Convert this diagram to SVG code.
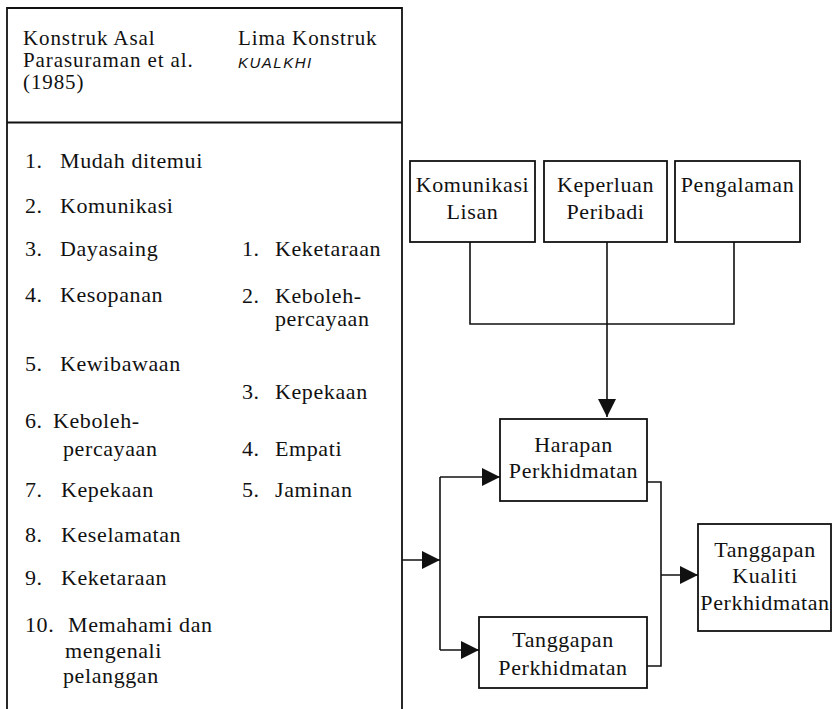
<svg xmlns="http://www.w3.org/2000/svg" width="835" height="709" viewBox="0 0 835 709">
<defs>
<style>
.t{font-family:"Liberation Serif","Times New Roman",serif;font-size:22px;letter-spacing:0.6px;fill:#111}
.h{font-size:21px;letter-spacing:0.9px}
.c{text-anchor:middle}
.it{font-family:"Liberation Sans",Arial,sans-serif;font-size:15px;font-style:italic;letter-spacing:1.5px;fill:#111}
.box{fill:#fff;stroke:#111;stroke-width:1.8}
.ln{fill:none;stroke:#111;stroke-width:1.6}
</style>
<marker id="ah" markerUnits="userSpaceOnUse" markerWidth="18" markerHeight="18" refX="18" refY="9" orient="auto" viewBox="0 0 18 18">
<path d="M0,0 L18,9 L0,18 z" fill="#111"/>
</marker>
</defs>
<rect width="835" height="709" fill="#fff"/>

<g id="table">
<path class="ln" d="M7,712 V8 H402 V712" style="stroke-width:1.8"/>
<line class="ln" x1="7" y1="122.5" x2="402" y2="122.5" style="stroke-width:1.8"/>
<text class="t h" x="23" y="45">Konstruk Asal</text>
<text class="t h" x="23" y="67">Parasuraman et al.</text>
<text class="t h" x="23" y="89">(1985)</text>
<text class="t h" x="238" y="45">Lima Konstruk</text>
<text class="it" x="238" y="68">KUALKHI</text>

<text class="t" x="25" y="168">1.</text><text class="t" x="60" y="168">Mudah ditemui</text>
<text class="t" x="25" y="213">2.</text><text class="t" x="60" y="213">Komunikasi</text>
<text class="t" x="25" y="256">3.</text><text class="t" x="60" y="256">Dayasaing</text>
<text class="t" x="25" y="302">4.</text><text class="t" x="60" y="302">Kesopanan</text>
<text class="t" x="25" y="371">5.</text><text class="t" x="60" y="371">Kewibawaan</text>
<text class="t" x="25" y="428">6.</text><text class="t" x="53" y="428">Keboleh-</text>
<text class="t" x="63" y="456">percayaan</text>
<text class="t" x="25" y="497">7.</text><text class="t" x="61" y="497">Kepekaan</text>
<text class="t" x="25" y="542">8.</text><text class="t" x="61" y="542">Keselamatan</text>
<text class="t" x="25" y="585">9.</text><text class="t" x="61" y="585">Keketaraan</text>
<text class="t" x="25" y="632">10.</text><text class="t" x="68" y="632">Memahami dan</text>
<text class="t" x="65" y="658">mengenali</text>
<text class="t" x="63" y="683">pelanggan</text>

<text class="t" x="242" y="256">1.</text><text class="t" x="275" y="256">Keketaraan</text>
<text class="t" x="242" y="303">2.</text><text class="t" x="275" y="303">Keboleh-</text>
<text class="t" x="275" y="326">percayaan</text>
<text class="t" x="242" y="399">3.</text><text class="t" x="275" y="399">Kepekaan</text>
<text class="t" x="242" y="456">4.</text><text class="t" x="275" y="456">Empati</text>
<text class="t" x="242" y="497">5.</text><text class="t" x="275" y="497">Jaminan</text>
</g>

<g id="connectors">
<path class="ln" d="M470,242 V324 H734 V242"/>
<path class="ln" d="M607,242 V417" marker-end="url(#ah)"/>
<path class="ln" d="M402,560 H440" marker-end="url(#ah)"/>
<path class="ln" d="M440,477 V650"/>
<path class="ln" d="M440,477 H500" marker-end="url(#ah)"/>
<path class="ln" d="M440,650 H479" marker-end="url(#ah)"/>
<path class="ln" d="M647,482 H661 V666 H647"/>
<path class="ln" d="M661,575 H698" marker-end="url(#ah)"/>
</g>

<g id="node-komunikasi-lisan">
<rect class="box" x="410" y="161" width="125" height="81"/>
<text class="t c" x="472.5" y="192">Komunikasi</text>
<text class="t c" x="472.5" y="219">Lisan</text>
</g>
<g id="node-keperluan-peribadi">
<rect class="box" x="544" y="161" width="123" height="81"/>
<text class="t c" x="605.5" y="192">Keperluan</text>
<text class="t c" x="605.5" y="219">Peribadi</text>
</g>
<g id="node-pengalaman">
<rect class="box" x="675" y="161" width="125" height="81"/>
<text class="t c" x="737.5" y="192">Pengalaman</text>
</g>
<g id="node-harapan">
<rect class="box" x="500" y="419" width="147" height="82"/>
<text class="t c" x="573.5" y="452">Harapan</text>
<text class="t c" x="573.5" y="478">Perkhidmatan</text>
</g>
<g id="node-tanggapan">
<rect class="box" x="479" y="617" width="168" height="71"/>
<text class="t c" x="563" y="647">Tanggapan</text>
<text class="t c" x="563" y="675">Perkhidmatan</text>
</g>
<g id="node-kualiti">
<rect class="box" x="698" y="524" width="133" height="107"/>
<text class="t c" x="765" y="557">Tanggapan</text>
<text class="t c" x="765" y="583">Kualiti</text>
<text class="t c" x="765" y="610">Perkhidmatan</text>
</g>
</svg>
